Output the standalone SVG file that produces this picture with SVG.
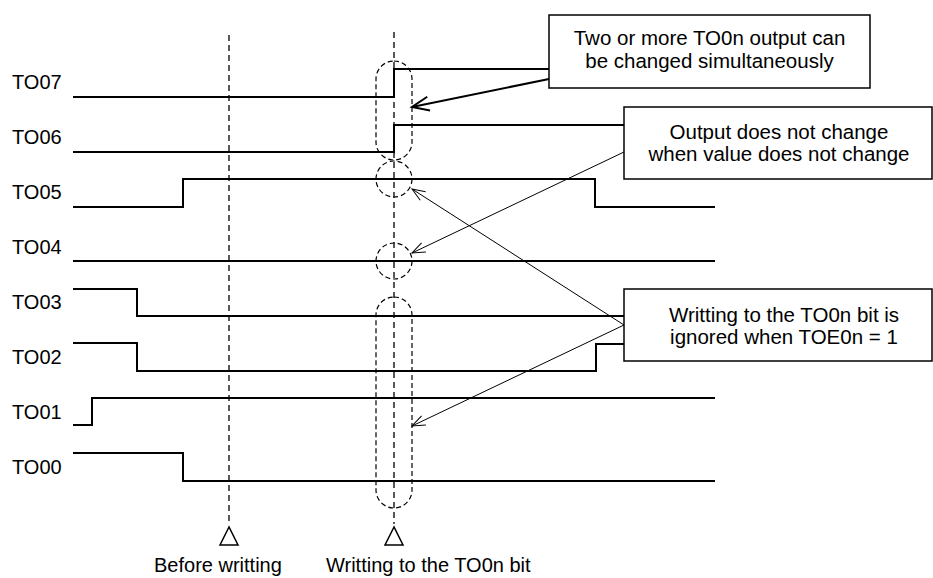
<svg xmlns="http://www.w3.org/2000/svg" width="933" height="578" viewBox="0 0 933 578">
<style>
.sig{fill:none;stroke:#000;stroke-width:2;stroke-linejoin:miter}
.lbl{font-family:"Liberation Sans",Arial,sans-serif;font-size:20px;fill:#000}
.btxt{font-family:"Liberation Sans",Arial,sans-serif;font-size:20.5px;fill:#000;text-anchor:middle}
.box{fill:#fff;stroke:#000;stroke-width:1.5}
.vd{stroke:#000;stroke-width:1.3;stroke-dasharray:6 4;fill:none}
.cap{fill:none;stroke:#000;stroke-width:1.2;stroke-dasharray:5 3}
.tri{fill:#fff;stroke:#000;stroke-width:1.5}
.thin{fill:none;stroke:#000;stroke-width:1}
.thick{fill:none;stroke:#000;stroke-width:2}
</style>
<defs>
<marker id="ah" markerUnits="userSpaceOnUse" markerWidth="20" markerHeight="20" refX="0" refY="0" orient="auto" overflow="visible">
<path d="M-13,-5 L0,0 L-13,5" fill="none" stroke="#000" stroke-width="1"/>
</marker>
<marker id="ahb" markerUnits="userSpaceOnUse" markerWidth="20" markerHeight="20" refX="0" refY="0" orient="auto" overflow="visible">
<path d="M-17,-7 L0,0 L-17,7" fill="none" stroke="#000" stroke-width="2"/>
</marker>
</defs>
<rect width="933" height="578" fill="#fff"/>

<g id="timing-lines">
<line class="vd" x1="229" y1="35" x2="229" y2="522"/>
<line class="vd" x1="394" y1="32" x2="394" y2="524"/>
</g>

<g id="TO07"><text class="lbl" x="12" y="89">TO07</text><path class="sig" d="M73,97 H394 V69 H549"/></g>
<g id="TO06"><text class="lbl" x="12" y="144">TO06</text><path class="sig" d="M73,152 H394 V125 H624"/></g>
<g id="TO05"><text class="lbl" x="12" y="199">TO05</text><path class="sig" d="M73,207 H183 V179 H595 V207 H715"/></g>
<g id="TO04"><text class="lbl" x="12" y="254">TO04</text><path class="sig" d="M73,261 H715"/></g>
<g id="TO03"><text class="lbl" x="12" y="309">TO03</text><path class="sig" d="M73,289 H137 V316 H624"/></g>
<g id="TO02"><text class="lbl" x="12" y="364">TO02</text><path class="sig" d="M73,343 H137 V371 H596 V344 H624"/></g>
<g id="TO01"><text class="lbl" x="12" y="419">TO01</text><path class="sig" d="M73,425 H92 V398 H715"/></g>
<g id="TO00"><text class="lbl" x="12" y="474">TO00</text><path class="sig" d="M73,453 H183 V481 H715"/></g>

<g id="highlights">
<rect class="cap" x="376" y="61" width="36" height="99" rx="18" ry="18"/>
<circle class="cap" cx="394" cy="179" r="18"/>
<circle class="cap" cx="394" cy="261" r="18"/>
<rect class="cap" x="376" y="297" width="36" height="211" rx="18" ry="18"/>
</g>

<g id="marker-before">
<polygon class="tri" points="229,527 220,545 238,545"/>
<text class="lbl" x="154" y="572">Before writting</text>
</g>
<g id="marker-write">
<polygon class="tri" points="394,527 385,545 403,545"/>
<text class="lbl" x="326" y="572">Writting to the TO0n bit</text>
</g>

<g id="note-simultaneous">
<rect class="box" x="549" y="15" width="321" height="73"/>
<text class="btxt" x="709.5" y="45">Two or more TO0n output can</text>
<text class="btxt" x="709.5" y="68">be changed simultaneously</text>
</g>
<g id="note-nochange">
<rect class="box" x="624" y="107" width="308" height="72"/>
<text class="btxt" x="779" y="139">Output does not change</text>
<text class="btxt" x="779" y="161">when value does not change</text>
</g>
<g id="note-ignored">
<rect class="box" x="624" y="289" width="308" height="72"/>
<text class="btxt" x="784" y="322">Writting to the TO0n bit is</text>
<text class="btxt" x="784" y="344">ignored when TOE0n = 1</text>
</g>

<g id="connectors">
<line class="thick" x1="549" y1="79" x2="412" y2="107" marker-end="url(#ahb)"/>
<line class="thin" x1="624" y1="152" x2="412" y2="253" marker-end="url(#ah)"/>
<line class="thin" x1="624" y1="325" x2="412" y2="189" marker-end="url(#ah)"/>
<line class="thin" x1="624" y1="325" x2="412" y2="426" marker-end="url(#ah)"/>
</g>
</svg>
